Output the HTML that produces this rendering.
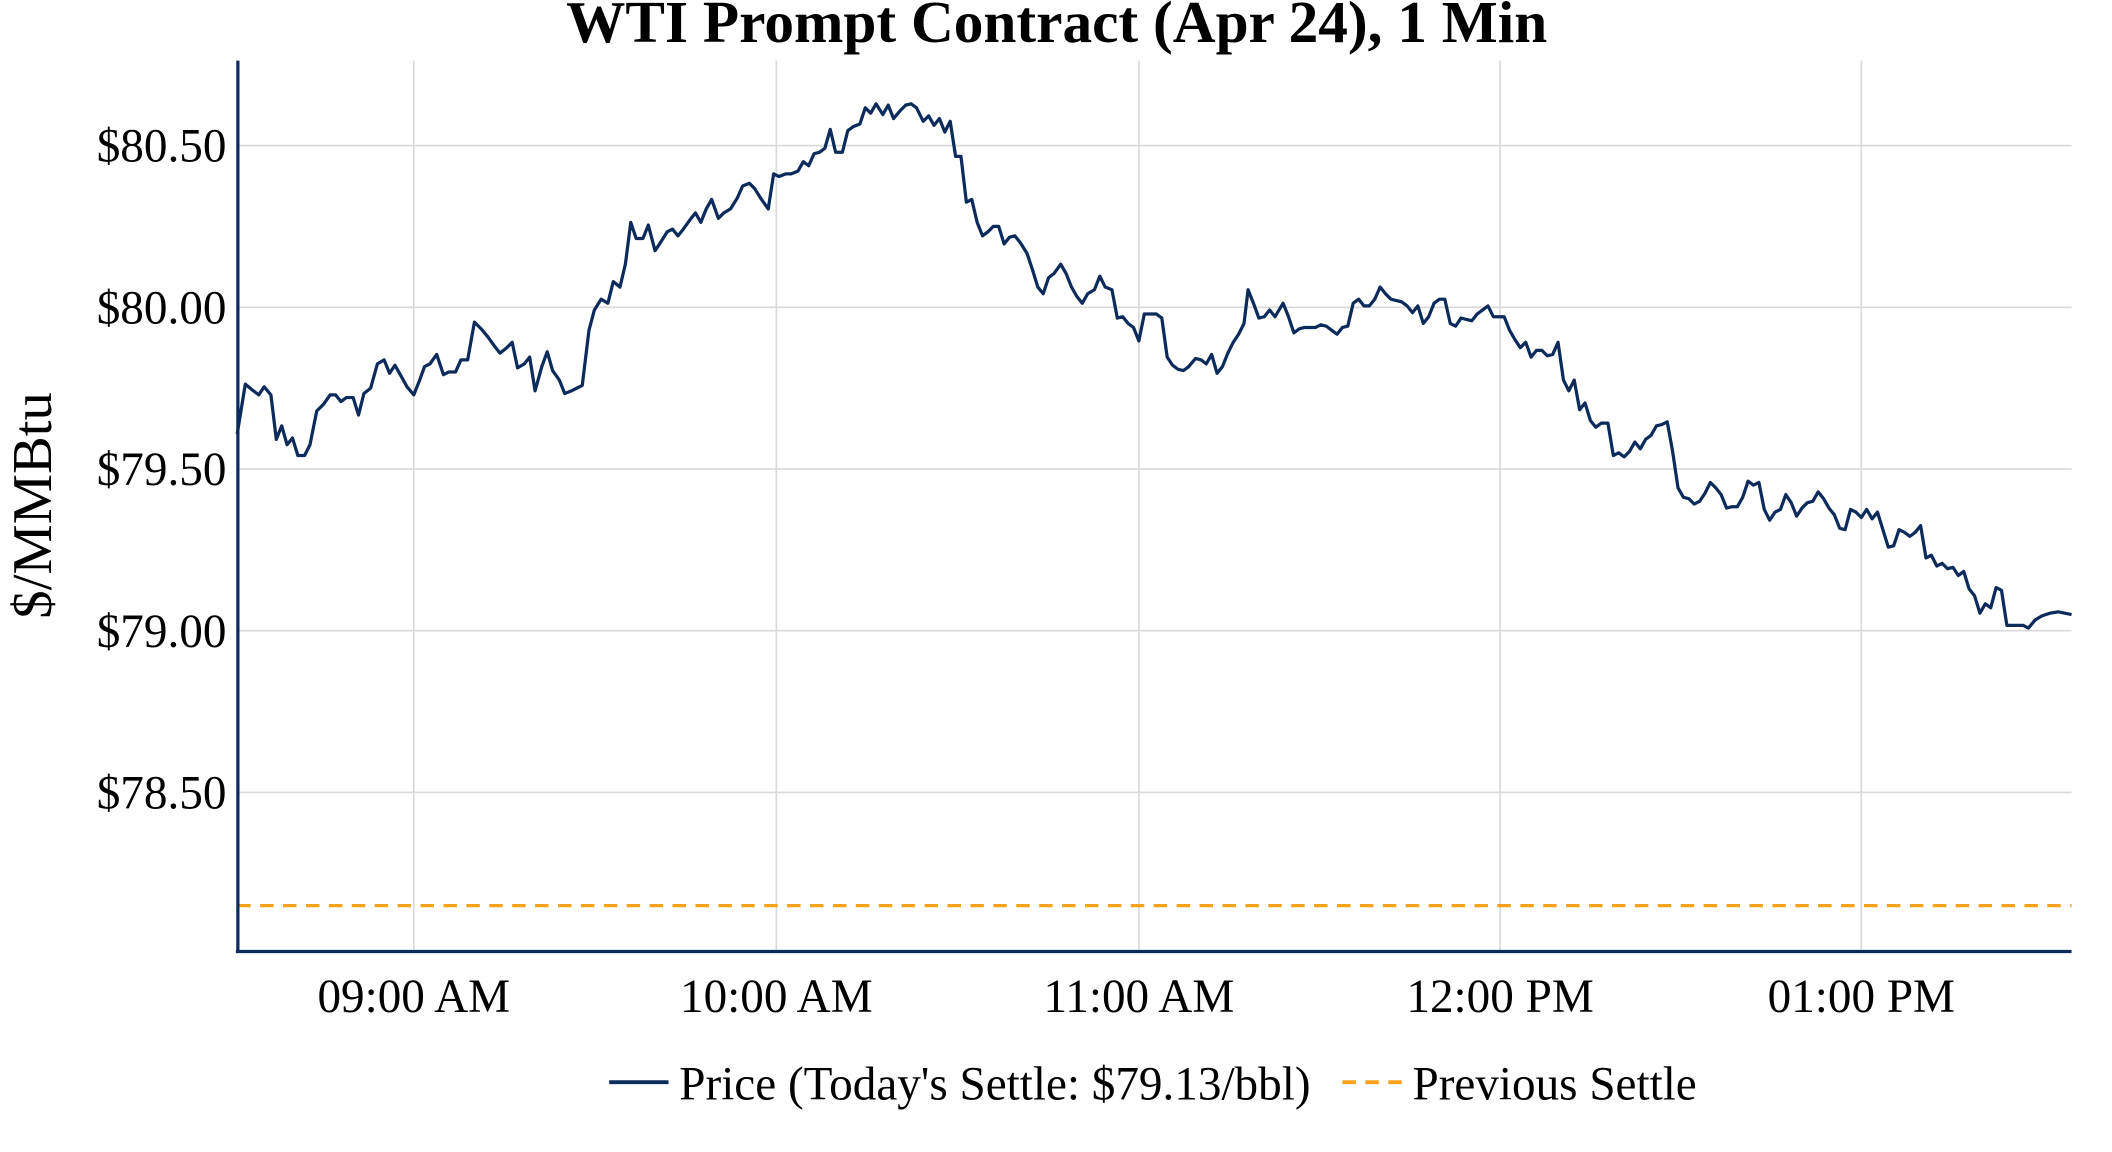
<!DOCTYPE html>
<html><head><meta charset="utf-8"><style>html,body{margin:0;padding:0;background:#fff}svg{display:block}</style></head>
<body>
<svg width="2112" height="1152" viewBox="0 0 1567 854.8" preserveAspectRatio="none" xmlns="http://www.w3.org/2000/svg" font-family="Liberation Serif, serif">
<rect width="1567" height="854.8" fill="#fff"/>
<g stroke="#d9d9d9" stroke-width="1.2">
<line x1="176" x2="1537" y1="108" y2="108"/><line x1="176" x2="1537" y1="228" y2="228"/><line x1="176" x2="1537" y1="348" y2="348"/><line x1="176" x2="1537" y1="468" y2="468"/><line x1="176" x2="1537" y1="588" y2="588"/>
<line x1="307" x2="307" y1="45" y2="706"/><line x1="576" x2="576" y1="45" y2="706"/><line x1="845" x2="845" y1="45" y2="706"/><line x1="1113" x2="1113" y1="45" y2="706"/><line x1="1381" x2="1381" y1="45" y2="706"/>
</g>
<line x1="176" x2="1537" y1="672" y2="672" stroke="#f7a21b" stroke-width="2.4" stroke-dasharray="10,7"/>
<polyline fill="none" stroke="#0c2b5b" stroke-width="2.4" stroke-linejoin="round" points="176,322 182,285 188,290 192,293 196,287 201,293 205,326 209,316 213,330 217,325 221,338 226,338 230,330 235,305 240,300 245,293 249,293 253,298 257,295 262,295 266,308 270,292 275,288 280,270 285,267 289,277 293,271 297,278 302,287 307,293 311,283 315,272 319,270 324,263 329,278 333,276 338,276 342,267 347,267 352,239 357,244 362,250 367,257 371,262 376,258 380,254 384,273 389,270 393,265 397,290 402,272 406,261 410,275 415,282 419,292 424,290 428,288 432,286 437,245 441,230 446,222 451,225 455,209 460,213 464,196 468,165 472,177 477,177 481,167 486,186 490,180 495,172 499,170 503,175 507,170 512,163 516,158 520,165 524,155 528,148 533,162 537,158 542,155 547,147 551,138 556,136 560,140 565,148 570,155 574,129 578,131 583,129 587,129 592,127 596,120 600,123 604,114 608,113 612,110 616,96 620,113 625,113 629,97 633,94 638,92 642,80 646,84 650,77 655,85 659,78 663,88 668,82 672,78 676,77 680,80 685,90 689,86 693,93 697,88 701,98 705,90 709,116 713,116 717,150 721,148 725,165 729,175 733,172 737,168 741,168 745,181 749,176 753,175 757,180 762,188 766,200 770,213 774,218 778,206 782,203 787,196 791,203 795,213 799,220 803,225 807,218 812,215 816,205 820,213 825,215 829,236 833,235 837,240 841,243 845,253 849,233 853,233 858,233 862,236 866,265 870,271 874,274 878,275 882,272 887,266 891,267 895,270 899,263 903,277 907,272 911,262 915,254 919,248 923,240 926,215 930,225 934,236 938,235 942,230 946,235 952,225 956,235 960,247 964,244 968,243 972,243 976,243 980,241 984,242 988,245 992,248 996,243 1000,242 1004,225 1008,222 1012,227 1016,227 1020,222 1024,213 1028,218 1032,222 1036,223 1040,224 1044,227 1048,232 1052,227 1056,240 1060,235 1064,225 1068,222 1072,222 1076,240 1080,242 1084,236 1088,237 1092,238 1096,233 1100,230 1104,227 1108,235 1112,235 1116,235 1120,245 1124,252 1128,258 1132,254 1136,265 1140,260 1144,260 1148,264 1152,263 1156,254 1160,282 1164,290 1168,282 1172,304 1176,299 1180,312 1184,317 1188,314 1193,314 1197,338 1201,336 1205,339 1209,335 1213,328 1217,333 1221,326 1225,323 1229,316 1233,315 1237,313 1241,335 1245,362 1249,369 1253,370 1257,374 1261,372 1265,366 1269,358 1273,362 1277,367 1281,377 1285,376 1289,376 1293,369 1297,357 1301,360 1305,358 1309,378 1313,386 1317,380 1321,378 1325,367 1329,373 1333,383 1337,377 1341,373 1345,372 1349,365 1353,370 1357,377 1361,382 1365,392 1369,393 1373,378 1377,380 1381,384 1385,378 1389,385 1393,380 1397,393 1401,406 1405,405 1409,393 1413,395 1417,398 1421,395 1425,390 1429,414 1433,412 1437,420 1441,418 1445,422 1449,421 1453,427 1457,424 1461,437 1465,442 1469,455 1473,448 1477,451 1481,436 1485,438 1489,464 1495,464 1501,464 1505,466 1510,460 1515,457 1521,455 1527,454 1537,456"/>
<line x1="176.5" x2="176.5" y1="45" y2="707" stroke="#0c2b5b" stroke-width="2.4"/>
<line x1="175" x2="1537" y1="706" y2="706" stroke="#0c2b5b" stroke-width="2.4"/>
<text x="784" y="31" text-anchor="middle" font-size="44" font-weight="bold">WTI Prompt Contract (Apr 24), 1 Min</text>
<g font-size="35" text-anchor="end">
<text x="168" y="120">$80.50</text><text x="168" y="240">$80.00</text><text x="168" y="360">$79.50</text><text x="168" y="480">$79.00</text><text x="168" y="600">$78.50</text>
</g>
<g font-size="35" text-anchor="middle">
<text x="307" y="751">09:00 AM</text><text x="576" y="751">10:00 AM</text><text x="845" y="751">11:00 AM</text><text x="1113" y="751">12:00 PM</text><text x="1381" y="751">01:00 PM</text>
</g>
<text transform="translate(38,375) rotate(-90)" text-anchor="middle" font-size="42">$/MMBtu</text>
<line x1="452" x2="496" y1="803" y2="803" stroke="#0c2b5b" stroke-width="2.8"/>
<text x="504" y="816" font-size="35">Price (Today's Settle: $79.13/bbl)</text>
<line x1="996" x2="1040" y1="803" y2="803" stroke="#f7a21b" stroke-width="2.8" stroke-dasharray="10,7"/>
<text x="1048" y="816" font-size="35">Previous Settle</text>
</svg>
</body></html>
